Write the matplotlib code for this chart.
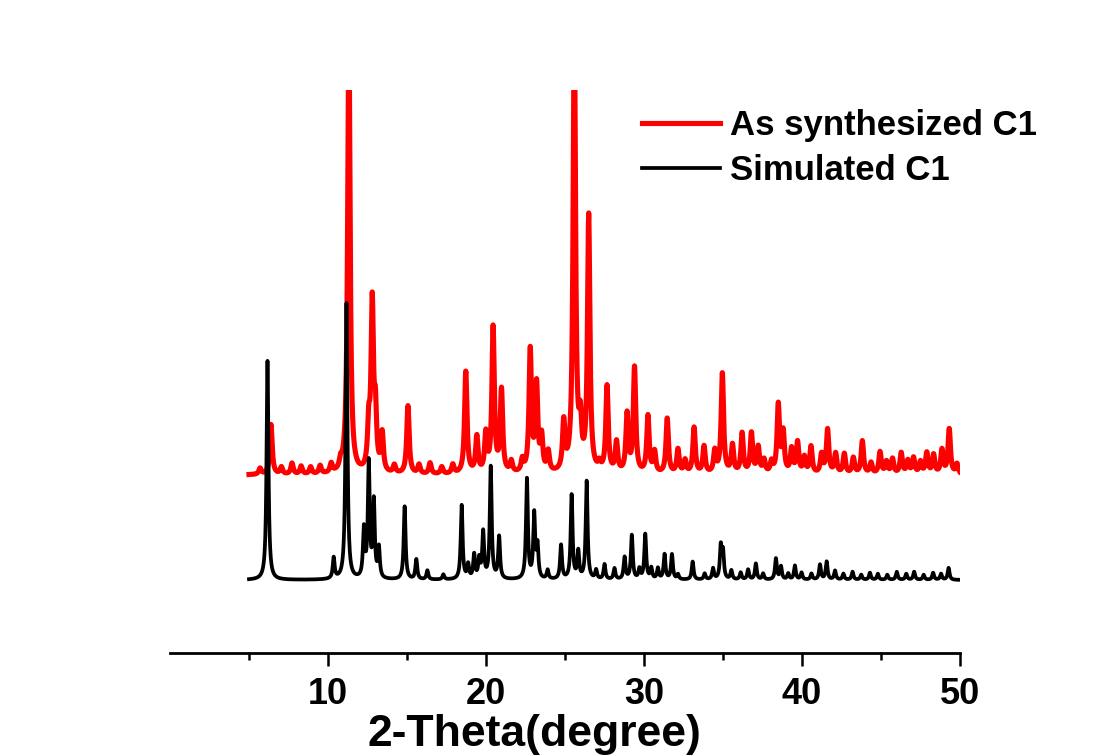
import numpy as np
import matplotlib
matplotlib.use("Agg")
import matplotlib.pyplot as plt

plt.rcParams['font.family'] = ['Liberation Sans', 'DejaVu Sans']
plt.rcParams['font.weight'] = 'bold'

# Peak lists (2-theta in degree, relative intensity)
sim_pos = [6.17, 10.36, 11.17, 12.27, 12.58, 12.90, 13.22, 14.85, 15.59, 16.29,
           17.30, 18.46, 18.87, 19.25, 19.57, 19.82, 20.30, 20.83, 22.59, 23.05,
           23.26, 23.90, 24.75, 25.42, 25.84, 26.37, 26.97, 27.50, 28.13, 28.77,
           29.23, 29.71, 30.08, 30.46, 30.88, 31.30, 31.77, 32.15, 33.08, 33.84,
           34.37, 34.86, 35.00, 35.53, 36.12, 36.59, 37.08, 37.54, 38.35, 38.67,
           39.13, 39.55, 39.97, 40.60, 41.14, 41.56, 42.09, 42.62, 43.20, 43.75,
           44.30, 44.80, 45.40, 46.00, 46.60, 47.10, 47.70, 48.30, 48.80, 49.28]
sim_int = [219, 21, 276, 48, 115, 76, 30, 73, 20, 9,
           5, 74, 14, 24, 19, 46, 112, 42, 100, 64,
           32, 9, 34, 84, 27, 98, 9, 15, 11, 22,
           44, 10, 45, 11, 11, 25, 25, 5, 18, 6,
           11, 32, 26, 9, 7, 10, 16, 6, 21, 13,
           6, 14, 7, 6, 15, 18, 9, 6, 8, 5,
           7, 6, 5, 8, 6, 8, 5, 7, 6, 12]

exp_pos = [5.70, 6.39, 7.05, 7.72, 8.30, 8.90, 9.50, 10.20, 10.80, 11.32,
           12.58, 12.80, 13.00, 13.43, 14.20, 15.06, 15.76, 16.46, 17.20, 17.90,
           18.72, 19.42, 19.99, 20.45, 20.98, 21.60, 22.30, 22.80, 23.20, 23.52,
           23.94, 24.92, 25.59, 25.97, 26.50, 27.18, 27.66, 28.26, 28.93, 29.40,
           30.25, 30.67, 31.47, 32.15, 32.60, 33.17, 33.80, 34.48, 34.96, 35.60,
           36.21, 36.80, 37.23, 37.60, 38.07, 38.50, 38.81, 39.34, 39.72, 40.15,
           40.57, 41.24, 41.62, 42.13, 42.68, 43.25, 43.82, 44.37, 44.94, 45.35,
           45.73, 46.28, 46.70, 47.06, 47.50, 47.90, 48.33, 48.86, 49.32, 49.81]
exp_int = [6, 50, 7, 11, 8, 7, 8, 9, 8, 450,
           42, 165, 55, 38, 8, 68, 9, 11, 7, 9,
           102, 36, 38, 145, 82, 11, 12, 122, 86, 34,
           20, 48, 450, 42, 255, 7, 86, 30, 58, 105,
           57, 21, 55, 24, 13, 46, 27, 22, 100, 28,
           40, 40, 26, 13, 11, 68, 40, 24, 31, 16,
           27, 19, 44, 20, 20, 16, 33, 11, 22, 12,
           15, 21, 13, 16, 12, 21, 19, 24, 45, 10]

EXP_OFFSET = 105

two_theta = np.arange(5.0, 50.0, 0.01)


def profile(pos, inten, hwhm):
    y = np.zeros_like(two_theta)
    for c, h in zip(pos, inten):
        y += h / (1.0 + ((two_theta - c) / hwhm) ** 2)
    return y


simulated = profile(sim_pos, sim_int, 0.07)
synthesized = profile(exp_pos, exp_int, 0.09) + EXP_OFFSET

fig = plt.figure(figsize=(10.99, 7.56), dpi=100)
ax = fig.add_axes([0.1547, 0.1362, 0.7188, 0.7448])

ax.plot(two_theta, synthesized, color='#ff0000', lw=3.7, label='As synthesized C1')
ax.plot(two_theta, simulated, color='black', lw=2.7, label='Simulated C1')

ax.set_xlim(0, 50)
ax.set_ylim(-73, 490)
for side in ['left', 'right', 'top']:
    ax.spines[side].set_visible(False)
ax.spines['bottom'].set_linewidth(2.0)
ax.set_yticks([])
ax.set_xticks([10, 20, 30, 40, 50])
ax.set_xticks([5, 15, 25, 35, 45], minor=True)
ax.tick_params(axis='x', which='major', direction='out', length=9, width=1.8,
               labelsize=26, pad=8)
ax.tick_params(axis='x', which='minor', direction='out', length=5, width=1.8)
for lab in ax.get_xticklabels():
    lab.set_fontweight('bold')

# axis title placed low, near the bottom edge
fig.text(0.486, 0.001, '2-Theta(degree)', fontsize=32, fontweight='bold',
         ha='center', va='bottom')

ax.legend(loc='upper left', bbox_to_anchor=(0.558, 1.021), frameon=False,
          prop={'size': 25, 'weight': 'bold'}, handlelength=2.25,
          handletextpad=0.29, labelspacing=0.34)

fig.savefig('out.png', dpi=100)
